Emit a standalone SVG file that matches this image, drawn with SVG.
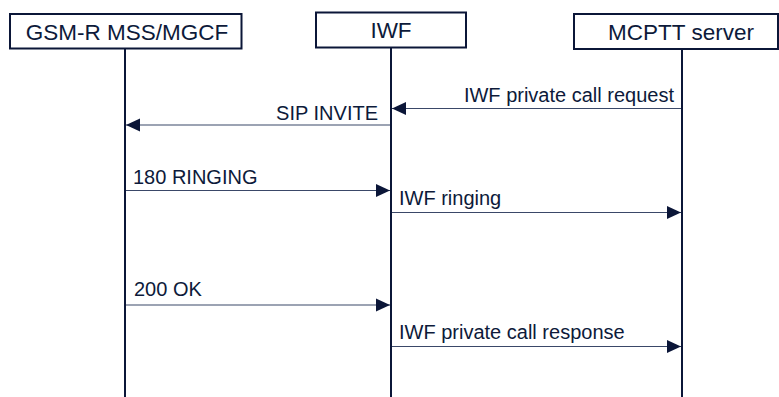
<svg xmlns="http://www.w3.org/2000/svg" width="779" height="397" viewBox="0 0 779 397">
<style>
.box{fill:#fff;stroke:#0b1638;stroke-width:2}
.life{stroke:#0b1638;stroke-width:2}
.hdr{font-family:"Liberation Sans",Arial,sans-serif;font-size:22.5px;fill:#0d1a3a;text-anchor:middle}
.lbl{font-family:"Liberation Sans",Arial,sans-serif;font-size:20px;fill:#0d1a3a}
.msg{stroke:#3a4868;stroke-width:1.2;fill:none;marker-end:url(#ah)}
</style>
<defs>
<marker id="ah" markerUnits="userSpaceOnUse" markerWidth="14" markerHeight="14" refX="14" refY="7" orient="auto">
<path d="M0,0.5 L14,7 L0,13.5 z" fill="#0b1638"/>
</marker>
</defs>
<g id="node-gsm">
<line class="life" x1="125" y1="49" x2="125" y2="397"/>
<rect class="box" x="10" y="14" width="231.5" height="34.5"/>
<text class="hdr" x="127" y="39.5">GSM-R MSS/MGCF</text>
</g>
<g id="node-iwf">
<line class="life" x1="391" y1="47" x2="391" y2="397"/>
<rect class="box" x="316" y="12.5" width="150" height="35"/>
<text class="hdr" x="391" y="38">IWF</text>
</g>
<g id="node-mcptt">
<line class="life" x1="682" y1="49" x2="682" y2="397"/>
<rect class="box" x="574" y="14" width="204" height="35"/>
<text class="hdr" x="681" y="40">MCPTT server</text>
</g>
<g id="connectors">
<line class="msg" x1="681" y1="108.5" x2="392" y2="108.5"/>
<text class="lbl" x="674" y="102" text-anchor="end">IWF private call request</text>
<line class="msg" x1="390" y1="125" x2="126" y2="125"/>
<text class="lbl" x="378" y="120" text-anchor="end">SIP INVITE</text>
<line class="msg" x1="126" y1="190.5" x2="390" y2="190.5"/>
<text class="lbl" x="133" y="184">180 RINGING</text>
<line class="msg" x1="392" y1="212.5" x2="681" y2="212.5"/>
<text class="lbl" x="399" y="205">IWF ringing</text>
<line class="msg" x1="126" y1="305" x2="390" y2="305"/>
<text class="lbl" x="134" y="296">200 OK</text>
<line class="msg" x1="392" y1="346.5" x2="681" y2="346.5"/>
<text class="lbl" x="399" y="339">IWF private call response</text>
</g>
</svg>
